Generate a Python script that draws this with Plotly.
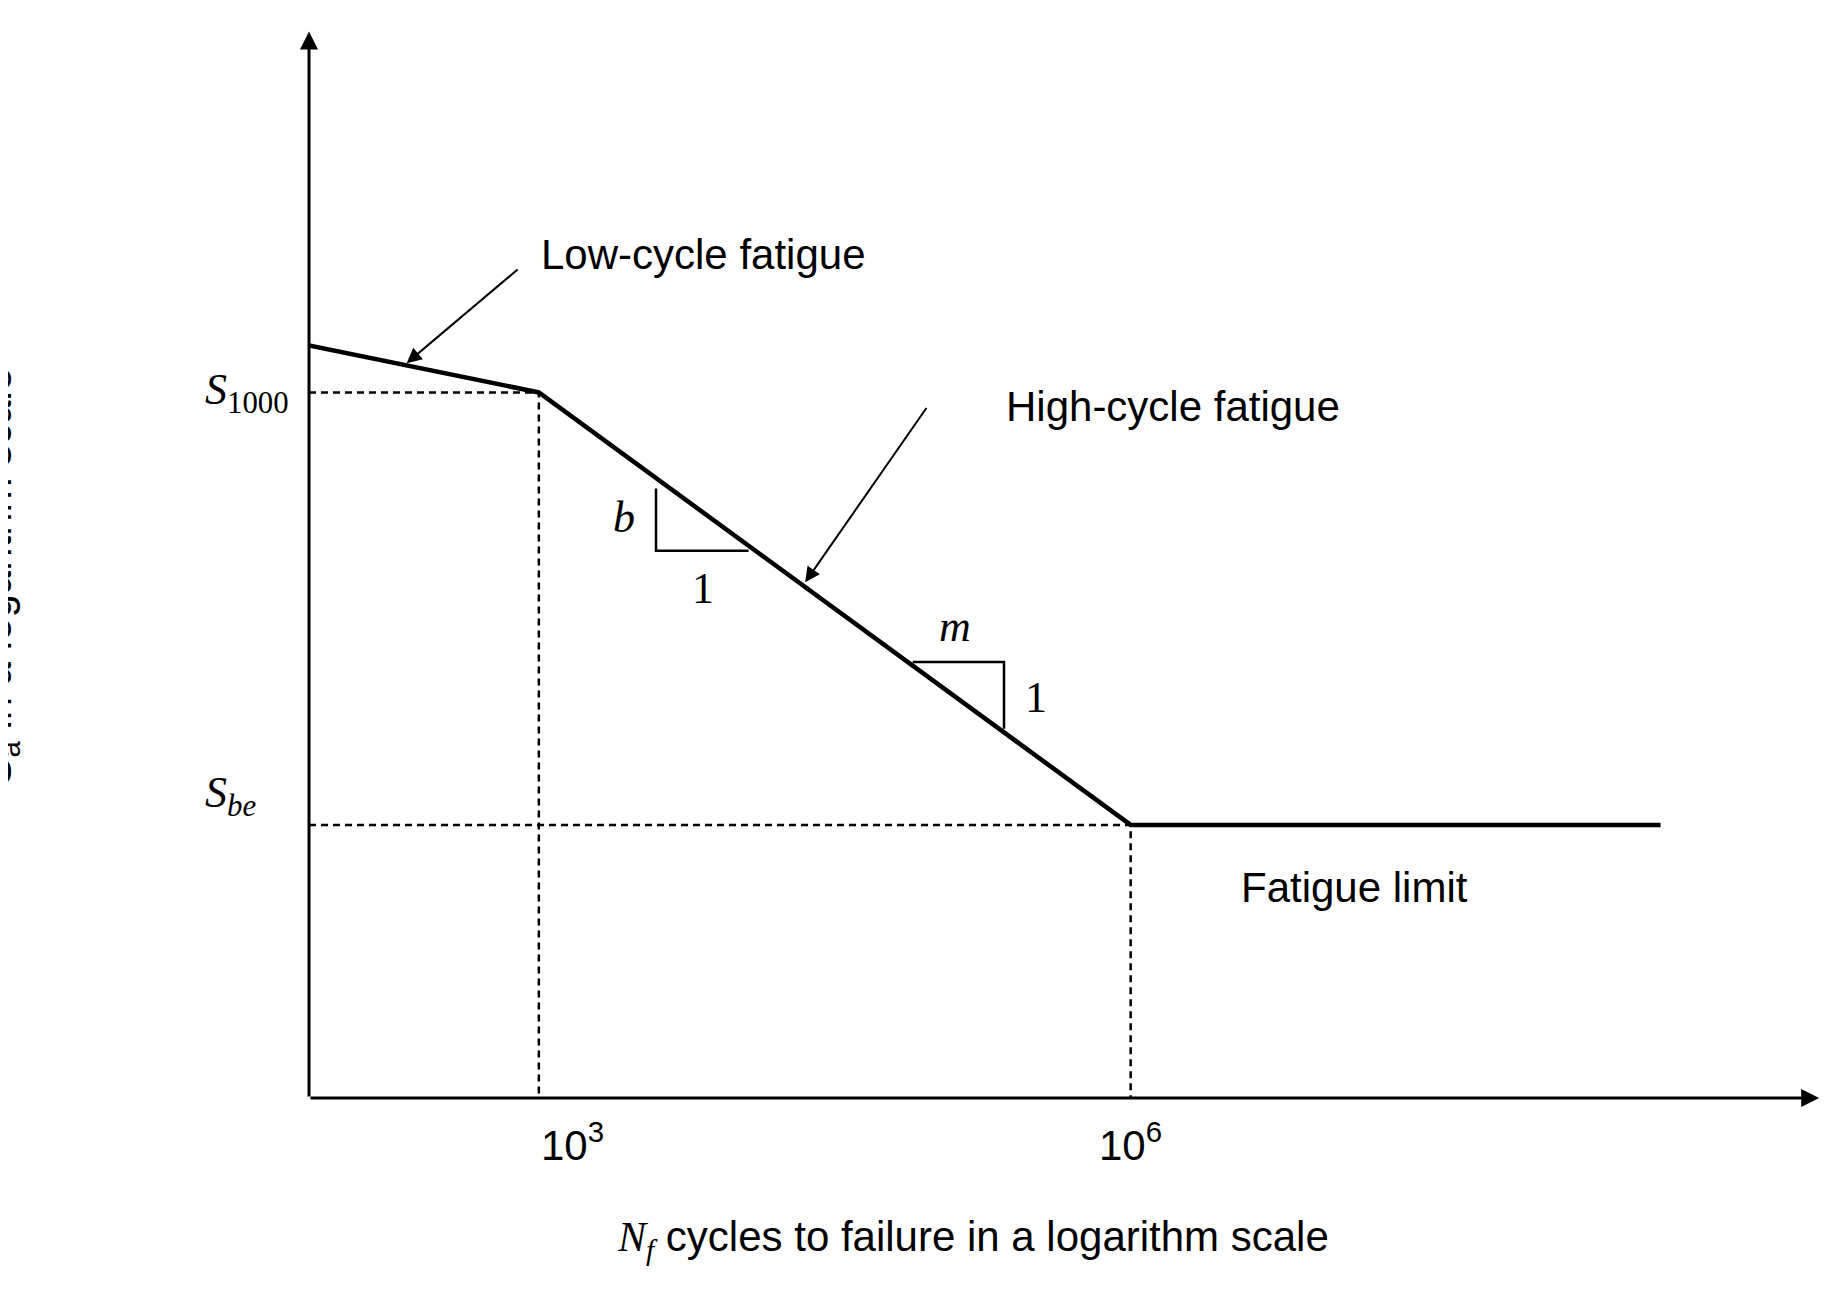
import plotly.graph_objects as go

# data (x = log10 cycles, y = log stress, arbitrary units)
curve_x = [1.835, 3.0, 6.0, 8.686]
curve_y = [6.42, 6.02, 2.33, 2.33]
tick_x = [3.0, 6.0]
tick_labels = ["10<sup>3</sup>", "10<sup>6</sup>"]
s_levels = [6.02, 2.33]
s_labels = ["<i>S</i><sub>1000</sub>", "<i>S</i><sub><i>be</i></sub>"]
x0, y0 = 1.835, 0.0
XR = [1.835, 9.55]
YR = [0, 9.215]
tri_b_x = [3.594, 3.594, 4.063]
tri_b_y = [5.20, 4.67, 4.67]
tri_m_x = [4.895, 5.358, 5.358]
tri_m_y = [3.72, 3.72, 3.15]

def px(x):
    return (x - XR[0]) / (XR[1] - XR[0])

def py(y):
    return (y - YR[0]) / (YR[1] - YR[0])

fig = go.Figure()
fig.add_trace(go.Scatter(x=curve_x, y=curve_y, mode="lines",
                         line=dict(color="black", width=4.5), showlegend=False))
for tx, ty in [(tri_b_x, tri_b_y), (tri_m_x, tri_m_y)]:
    fig.add_trace(go.Scatter(x=tx, y=ty, mode="lines",
                             line=dict(color="black", width=2.5), showlegend=False))
dash = dict(color="black", width=2.5, dash="7px,5px")
fig.add_trace(go.Scatter(x=[x0, curve_x[1], curve_x[1]], y=[s_levels[0], s_levels[0], y0],
                         mode="lines", line=dash, showlegend=False))
fig.add_trace(go.Scatter(x=[x0, curve_x[2], curve_x[2]], y=[s_levels[1], s_levels[1], y0],
                         mode="lines", line=dash, showlegend=False))

ann = []
ann.append(dict(x=9.49, y=y0, ax=x0, ay=y0, xref="x", yref="y", axref="x", ayref="y",
                showarrow=True, arrowhead=2, arrowsize=1.2, arrowwidth=3, arrowcolor="black", text=""))
ann.append(dict(x=x0, y=9.10, ax=x0, ay=y0, xref="x", yref="y", axref="x", ayref="y",
                showarrow=True, arrowhead=2, arrowsize=1.2, arrowwidth=3, arrowcolor="black", text=""))
sans = dict(family="Liberation Sans, Arial", size=42, color="black")
serif = dict(family="Liberation Serif, DejaVu Serif", size=44, color="black")
for tx, tl in zip(tick_x, tick_labels):
    ann.append(dict(x=px(tx), y=py(-0.62), xref="paper", yref="paper", text=tl,
                    showarrow=False, font=sans))
for sl, st in zip(s_levels, s_labels):
    ann.append(dict(x=px(1.3), y=py(sl), xref="paper", yref="paper", text=st,
                    showarrow=False, font=serif))
ann.append(dict(x=3.0, y=7.2, xref="x", yref="y", text="Low-cycle fatigue", showarrow=False,
                font=sans, xanchor="left"))
ann.append(dict(x=2.33, y=6.27, ax=2.90, ay=7.08, xref="x", yref="y", axref="x", ayref="y",
                text="", showarrow=True, arrowhead=2, arrowsize=1.5, arrowwidth=2, arrowcolor="black"))
ann.append(dict(x=5.36, y=5.9, xref="x", yref="y", text="High-cycle fatigue", showarrow=False,
                font=sans, xanchor="left"))
ann.append(dict(x=4.35, y=4.40, ax=4.97, ay=5.9, xref="x", yref="y", axref="x", ayref="y",
                text="", showarrow=True, arrowhead=2, arrowsize=1.5, arrowwidth=2, arrowcolor="black"))
ann.append(dict(x=6.55, y=1.8, xref="x", yref="y", text="Fatigue limit", showarrow=False,
                font=sans, xanchor="left"))
ann.append(dict(x=3.43, y=4.95, xref="x", yref="y", text="<i>b</i>", showarrow=False, font=serif))
ann.append(dict(x=3.83, y=4.35, xref="x", yref="y", text="1", showarrow=False, font=serif))
ann.append(dict(x=5.11, y=4.02, xref="x", yref="y", text="<i>m</i>", showarrow=False, font=serif))
ann.append(dict(x=5.52, y=3.42, xref="x", yref="y", text="1", showarrow=False, font=serif))
ann.append(dict(x=px(5.2), y=py(-1.45), xref="paper", yref="paper",
                text="<i><span style='font-family:Liberation Serif'>N<sub>f</sub></span></i> cycles to failure in a logarithm scale",
                showarrow=False, font=sans))
ann.append(dict(x=px(0.12), y=py(4.45), xref="paper", yref="paper",
                text="S<sub>a</sub> in a logarithm scale",
                showarrow=False, font=sans, textangle=-90))

fig.update_layout(
    width=1829, height=1307, plot_bgcolor="white", paper_bgcolor="white",
    margin=dict(l=301, r=6, t=10, b=217), annotations=ann,
    xaxis=dict(range=XR, visible=False),
    yaxis=dict(range=YR, visible=False),
)
fig.write_html("out.html")
